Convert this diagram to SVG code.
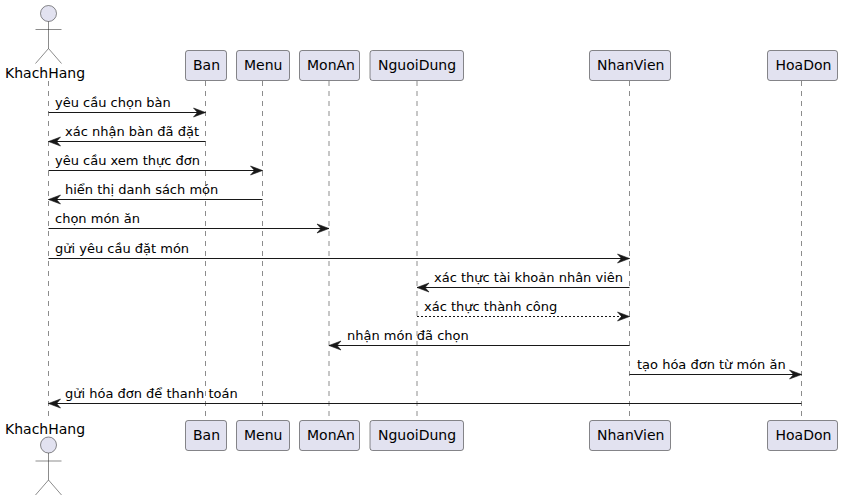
<svg xmlns="http://www.w3.org/2000/svg" width="842" height="501" viewBox="0 0 842 501">
<style>
text{font-family:"DejaVu Sans",sans-serif;fill:#000}
.n{font-size:14px}
.m{font-size:13px}
.b{fill:#E2E2F0;stroke:#181818;stroke-width:.5}
.l{stroke:#181818;stroke-width:.5;stroke-dasharray:5,5;fill:none}
.c{stroke:#181818;stroke-width:1;fill:none}
.d{stroke-dasharray:2,2}
.a{fill:#E2E2F0;stroke:#181818;stroke-width:.5}
.s{fill:none;stroke:#181818;stroke-width:.5}
</style>
<defs>
<marker id="r" markerUnits="userSpaceOnUse" markerWidth="18" markerHeight="16" refX="15" refY="8" orient="auto"><path d="M3,3.5 L15,8 L3,12.5 L7,8 Z" fill="#181818" stroke="#181818" stroke-width=".6"/></marker>
<g id="actor"><circle class="a" cx="0" cy="0" r="8"/><path class="s" d="M0,8 V35 M-13,16 H13 M0,35 L-13,50 M0,35 L13,50"/></g>
</defs>
<g id="lifelines">
<path class="l" d="M48.5,81 V420 M205.5,81 V420 M262.5,81 V420 M329,81 V420 M417,81 V420 M629.5,81 V420 M801.5,81 V420"/>
</g>
<g id="KhachHang"><use href="#actor" x="48.5" y="13.5"/><use href="#actor" x="48.5" y="445"/><text class="n" x="5" y="78">KhachHang</text><text class="n" x="5" y="434">KhachHang</text></g>
<g id="Ban"><rect class="b" x="185.5" y="50.5" width="41" height="30" rx="2.5"/><rect class="b" x="185.5" y="420.5" width="41" height="30" rx="2.5"/><text class="n" x="193" y="70">Ban</text><text class="n" x="193" y="440">Ban</text></g>
<g id="Menu"><rect class="b" x="236.5" y="50.5" width="53" height="30" rx="2.5"/><rect class="b" x="236.5" y="420.5" width="53" height="30" rx="2.5"/><text class="n" x="244" y="70">Menu</text><text class="n" x="244" y="440">Menu</text></g>
<g id="MonAn"><rect class="b" x="299.5" y="50.5" width="60" height="30" rx="2.5"/><rect class="b" x="299.5" y="420.5" width="60" height="30" rx="2.5"/><text class="n" x="307" y="70">MonAn</text><text class="n" x="307" y="440">MonAn</text></g>
<g id="NguoiDung"><rect class="b" x="370" y="50.5" width="93.5" height="30" rx="2.5"/><rect class="b" x="370" y="420.5" width="93.5" height="30" rx="2.5"/><text class="n" x="378" y="70">NguoiDung</text><text class="n" x="378" y="440">NguoiDung</text></g>
<g id="NhanVien"><rect class="b" x="589.5" y="50.5" width="81" height="30" rx="2.5"/><rect class="b" x="589.5" y="420.5" width="81" height="30" rx="2.5"/><text class="n" x="597" y="70">NhanVien</text><text class="n" x="597" y="440">NhanVien</text></g>
<g id="HoaDon"><rect class="b" x="767.5" y="50.5" width="70" height="30" rx="2.5"/><rect class="b" x="767.5" y="420.5" width="70" height="30" rx="2.5"/><text class="n" x="775.5" y="70">HoaDon</text><text class="n" x="775.5" y="440">HoaDon</text></g>
<g id="connectors">
<line class="c" x1="48.5" y1="112.5" x2="205.5" y2="112.5" marker-end="url(#r)"/>
<line class="c" x1="205.5" y1="141.5" x2="48.5" y2="141.5" marker-end="url(#r)"/>
<line class="c" x1="48.5" y1="170.5" x2="262.5" y2="170.5" marker-end="url(#r)"/>
<line class="c" x1="262.5" y1="199.5" x2="48.5" y2="199.5" marker-end="url(#r)"/>
<line class="c" x1="48.5" y1="228.5" x2="329" y2="228.5" marker-end="url(#r)"/>
<line class="c" x1="48.5" y1="258.5" x2="629.5" y2="258.5" marker-end="url(#r)"/>
<line class="c" x1="629.5" y1="287.5" x2="417" y2="287.5" marker-end="url(#r)"/>
<line class="c d" x1="417" y1="316.5" x2="629.5" y2="316.5" marker-end="url(#r)"/>
<line class="c" x1="629.5" y1="345.5" x2="329" y2="345.5" marker-end="url(#r)"/>
<line class="c" x1="629.5" y1="374.5" x2="801.5" y2="374.5" marker-end="url(#r)"/>
<line class="c" x1="801.5" y1="403.5" x2="48.5" y2="403.5" marker-end="url(#r)"/>
<text class="m" x="55" y="107">yêu cầu chọn bàn</text>
<text class="m" x="65" y="136">xác nhận bàn đã đặt</text>
<text class="m" x="55" y="165">yêu cầu xem thực đơn</text>
<text class="m" x="65" y="194">hiển thị danh sách món</text>
<text class="m" x="55" y="223">chọn món ăn</text>
<text class="m" x="55" y="253">gửi yêu cầu đặt món</text>
<text class="m" x="434" y="282">xác thực tài khoản nhân viên</text>
<text class="m" x="424" y="311">xác thực thành công</text>
<text class="m" x="347" y="340">nhận món đã chọn</text>
<text class="m" x="637" y="369">tạo hóa đơn từ món ăn</text>
<text class="m" x="65" y="398">gửi hóa đơn để thanh toán</text>
</g>
</svg>
